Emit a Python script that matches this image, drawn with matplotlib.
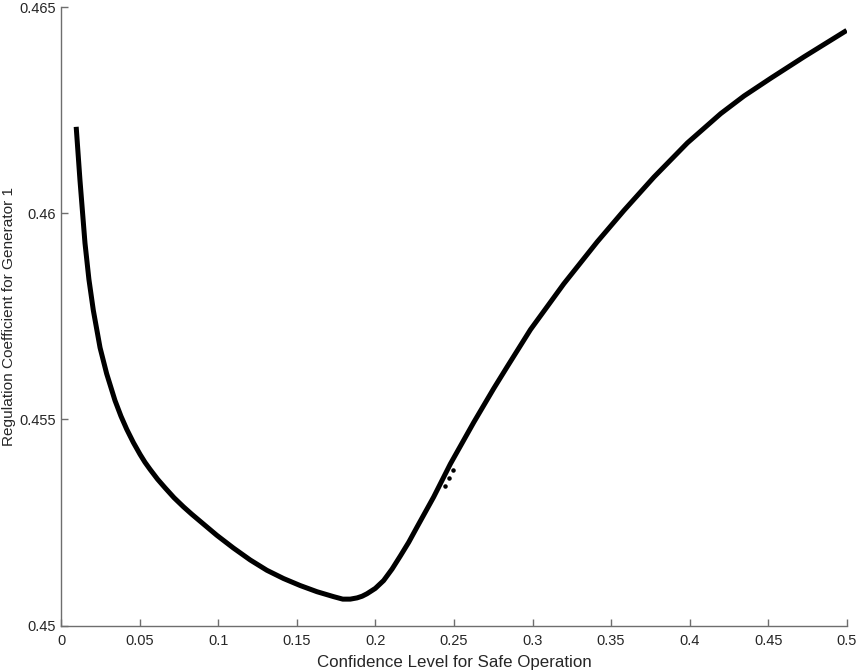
import matplotlib
matplotlib.use("Agg")
import matplotlib.pyplot as plt

# Data
confidence = [0.0095, 0.0119, 0.0151, 0.0176, 0.0204, 0.0247, 0.0289, 0.0342,
              0.0380, 0.0417, 0.0459, 0.0502, 0.0533, 0.0565, 0.0613, 0.0661,
              0.0718, 0.0778, 0.0831, 0.0884, 0.0990, 0.1096, 0.1203, 0.1309,
              0.1415, 0.1521, 0.1628, 0.1734, 0.1792, 0.1840, 0.1883, 0.1915,
              0.1946, 0.1999, 0.2052, 0.2106, 0.2159, 0.2212, 0.2265, 0.2371,
              0.2477, 0.2626, 0.2753, 0.2839, 0.2987, 0.3094, 0.3199, 0.3412,
              0.3582, 0.3773, 0.3986, 0.4198, 0.4347, 0.4517, 0.4729, 0.5000]
coefficient = [0.46210, 0.46081, 0.45928, 0.45840, 0.45765, 0.45674, 0.45611, 0.45546,
               0.45508, 0.45476, 0.45444, 0.45415, 0.45396, 0.45379, 0.45355, 0.45334,
               0.45310, 0.45288, 0.45270, 0.45253, 0.45219, 0.45188, 0.45159, 0.45134,
               0.45114, 0.45097, 0.45082, 0.45070, 0.45064, 0.45064, 0.45067, 0.45071,
               0.45077, 0.45090, 0.45109, 0.45137, 0.45169, 0.45202, 0.45239, 0.45312,
               0.45392, 0.45493, 0.45575, 0.45628, 0.45718, 0.45774, 0.45829, 0.45931,
               0.46007, 0.46088, 0.46171, 0.46242, 0.46285, 0.46328, 0.46380, 0.46444]

# Stray points next to the curve
stray_x = [0.2445, 0.2467, 0.2495]
stray_y = [0.45339, 0.45357, 0.45377]

x_ticks = [0, 0.05, 0.1, 0.15, 0.2, 0.25, 0.3, 0.35, 0.4, 0.45, 0.5]
x_tick_labels = ["0", "0.05", "0.1", "0.15", "0.2", "0.25", "0.3", "0.35", "0.4", "0.45", "0.5"]
y_ticks = [0.45, 0.455, 0.46, 0.465]
y_tick_labels = ["0.45", "0.455", "0.46", "0.465"]

plt.rcParams['font.family'] = ['Liberation Sans', 'DejaVu Sans']

fig = plt.figure(figsize=(8.58, 6.71), dpi=100)
ax = fig.add_axes([0.0714, 0.0678, 0.9154, 0.9213])

ax.plot(confidence, coefficient, color='black', linewidth=3.6,
        solid_capstyle='butt', solid_joinstyle='round')
ax.scatter(stray_x, stray_y, s=5, color='black', zorder=3)

ax.set_xlim(0, 0.5)
ax.set_ylim(0.45, 0.465)
ax.set_xticks(x_ticks)
ax.set_xticklabels(x_tick_labels)
ax.set_yticks(y_ticks)
ax.set_yticklabels(y_tick_labels)

axis_color = '#6e6e6e'
text_color = '#262626'
for side in ['top', 'right']:
    ax.spines[side].set_visible(False)
for side in ['left', 'bottom']:
    ax.spines[side].set_color(axis_color)
    ax.spines[side].set_linewidth(1.0)
ax.tick_params(direction='in', length=5, width=1.0, color=axis_color,
               labelcolor=text_color, labelsize=10.5)
ax.tick_params(axis='x', pad=6)
ax.tick_params(axis='y', pad=4)

ax.set_xlabel('Confidence Level for Safe Operation', fontsize=12.2, color=text_color, labelpad=5)
ax.set_ylabel('Regulation Coefficient for Generator 1', fontsize=11.1, color=text_color, labelpad=2)

fig.savefig('out.png', dpi=100)
